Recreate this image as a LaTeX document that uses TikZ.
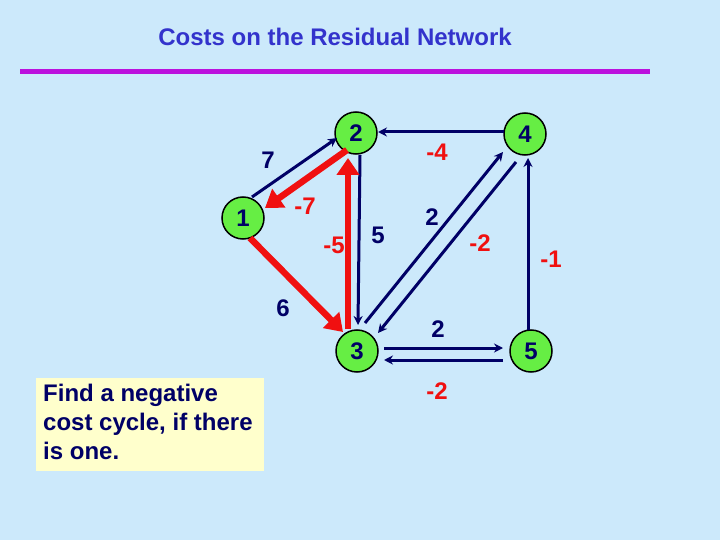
\documentclass[tikz,border=0pt]{standalone}
\usepackage{fontspec}
\setmainfont{Liberation Sans}
\usetikzlibrary{arrows.meta,calc}
\definecolor{bg}{HTML}{CCE9FB}
\definecolor{navy}{HTML}{000066}
\definecolor{redc}{HTML}{F01010}
\definecolor{titlec}{HTML}{3333CC}
\definecolor{magc}{HTML}{BB11DD}
\definecolor{nodeg}{HTML}{66EE44}
\definecolor{boxy}{HTML}{FFFFCC}
\begin{document}
\begin{tikzpicture}[x=1pt,y=-1pt,
  vert/.style={circle,draw=black,line width=1.5pt,fill=nodeg,minimum size=42pt,inner sep=0pt,font=\bfseries\fontsize{24}{24}\selectfont,text=navy},
  narc/.style={draw=navy,line width=3pt,-{Stealth[length=9pt,width=9pt]}},
  rarc/.style={draw=redc,line width=6.5pt,-{Triangle[length=17pt,width=22pt]}},
  nlab/.style={font=\bfseries\fontsize{24}{24}\selectfont,text=navy},
  rlab/.style={font=\bfseries\fontsize{24}{24}\selectfont,text=redc}]
\fill[bg] (0,0) rectangle (720,540);
\useasboundingbox (0,0) rectangle (720,540);
\node[font=\bfseries\fontsize{24}{28}\selectfont,text=titlec] (title) at (335,37) {Costs on the Residual Network};
\coordinate (ml) at (20,72); \coordinate (mr) at (650,72);
\draw[magc,line width=5pt] (ml) -- (mr);
% vertices
\node[vert] (n2) at (356,133) {2};
\node[vert] (n1) at (243,218) {1};
\node[vert] (n4) at (525,134) {4};
\node[vert] (n3) at (357,351) {3};
\node[vert] (n5) at (531,351) {5};
% navy arcs
\draw[narc] ($(n1)+(9,-21)$) -- ($(n2)+(-19,5)$);
\draw[narc] ($(n4)+(-21,-2)$) -- ($(n2)+(22,-1)$);
\draw[narc] ($(n2)+(4,22)$) -- ($(n3)+(1,-26)$);
\draw[narc] ($(n3)+(8,-28)$) -- ($(n4)+(-22,18)$);
\draw[narc] ($(n4)+(-9,28)$) -- ($(n3)+(21,-18)$);
\draw[narc] ($(n5)+(-3,-21)$) -- ($(n4)+(3,24)$);
\draw[narc] ($(n3)+(27,-3)$) -- ($(n5)+(-28,-3)$);
\draw[narc] ($(n5)+(-28,9)$) -- ($(n3)+(27,9)$);
% red arcs
\draw[rarc] ($(n2)+(-9,17)$) -- ($(n1)+(22,-10)$);
\draw[rarc] ($(n3)+(-9,-22)$) -- ($(n2)+(-8,25)$);
\draw[rarc] ($(n1)+(7,20)$) -- ($(n3)+(-14,-19)$);
% labels
\node[nlab] (l7) at (268,160) {7};
\node[rlab] (lm7) at (305,206) {-7};
\node[rlab] (lm5) at (334,245) {-5};
\node[nlab] (l5) at (378,235) {5};
\node[nlab] (l6) at (283,308) {6};
\node[rlab] (lm4) at (437,152) {-4};
\node[nlab] (l2a) at (432,217) {2};
\node[rlab] (lm2a) at (480,243) {-2};
\node[rlab] (lm1) at (551,259) {-1};
\node[nlab] (l2b) at (438,329) {2};
\node[rlab] (lm2b) at (437,391) {-2};
% text box
\fill[boxy] (36,378) rectangle (264,471);
\node[anchor=north west,align=left,font=\bfseries\fontsize{24}{29}\selectfont,text=navy,inner sep=0pt] (txt) at (43,384) {Find a negative\\cost cycle, if there\\is one.};
\end{tikzpicture}
\end{document}
